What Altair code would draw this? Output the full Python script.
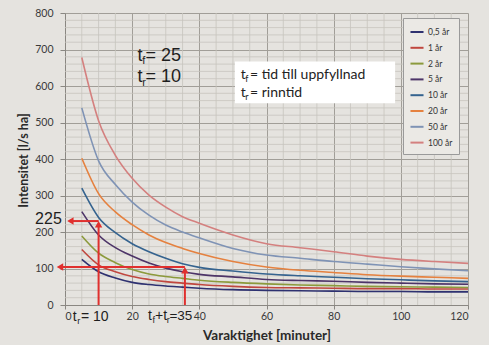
import altair as alt
import pandas as pd

# ---- data ----
minutes = [5, 10, 15, 20, 25, 30, 35, 40, 50, 60, 70, 80, 90, 100, 110, 120]
series_names = ["0,5 år", "1 år", "2 år", "5 år", "10 år", "20 år", "50 år", "100 år"]
i_05 = [125, 91, 74, 62, 56, 52, 49, 46, 42, 40, 39, 38, 37, 37, 36, 36]
i_1 = [152, 110, 91, 78, 70, 64, 60, 56, 51, 48, 47, 46, 45, 45, 44, 44]
i_2 = [189, 142, 116, 97, 85, 78, 73, 68, 62, 58, 55, 53, 51, 50, 49, 48]
i_5 = [256, 192, 157, 134, 115, 101, 91, 84, 77, 70, 67, 65, 62, 60, 58, 57]
i_10 = [320, 240, 198, 168, 146, 128, 113, 103, 93, 85, 80, 76, 72, 69, 66, 64]
i_20 = [402, 305, 255, 220, 192, 171, 155, 141, 119, 104, 95, 89, 83, 79, 76, 73]
i_50 = [540, 395, 330, 282, 246, 219, 200, 184, 155, 137, 128, 119, 112, 105, 99, 94]
i_100 = [678, 505, 410, 347, 301, 268, 242, 224, 192, 168, 157, 146, 134, 125, 119, 114]
series_colors = ["#2e3170", "#c0473f", "#8c9a3c", "#4d3468", "#35638f", "#e5813f", "#7f93b5", "#d4807f"]

x_ticks = [0, 20, 40, 60, 80, 100, 120]
y_ticks = [0, 100, 200, 300, 400, 500, 600, 700, 800]

# annotation arrows (minutes / intensity)
arrow_x = [10, 10, 35.7, 35.7]
arrow_x2 = [10, 1.6, 35.7, -1.5]
arrow_y = [0, 230, 0, 104]
arrow_y2 = [221, 230, 95, 104]
head_x = [10, 1.6, 35.7, -1.5]
head_y = [221, 230, 95, 104]
head_shape = ["triangle-up", "triangle-left", "triangle-up", "triangle-left"]

# annotation texts (Arial-like)
ann_text = ["t", "f", "= 25", "t", "r", "= 10", "225",
            "t", "r", "= 10", "t", "f", "+t", "r", "=35"]
ann_x = [21.6, 23.0, 24.0, 21.6, 23.0, 24.0, -8.9,
         2.3, 3.65, 4.75, 24.7, 26.05, 26.8, 30.3, 31.1]
ann_y = [669, 660, 669, 610, 601, 610, 222,
         -43, -51, -43, -40, -48, -40, -48, -40]
ann_size = [18, 11, 18, 18, 11, 18, 16,
            14, 9, 14, 14, 9, 14, 9, 13.5]

# text box
box_text = ["t", "f", "= tid till uppfyllnad", "t", "r", "= rinntid"]
box_x = [52.3, 53.7, 55.1, 52.3, 53.7, 55.1]
box_y = [619, 611, 619, 570, 562, 570]
box_size = [14, 9, 14, 14, 9, 14]
box_rect_x, box_rect_x2, box_rect_y, box_rect_y2 = [50.6], [98.3], [553], [667]

# ---- build ----
rows = []
for name, vals in zip(series_names, [i_05, i_1, i_2, i_5, i_10, i_20, i_50, i_100]):
    for t, v in zip(minutes, vals):
        rows.append({"x": t, "y": v, "Serie": name})
df = pd.DataFrame(rows)

W, H = 403, 292
xs = alt.Scale(domain=[0, 120], nice=False, zero=False)
ys = alt.Scale(domain=[0, 800], nice=False)

AX = alt.Axis(values=x_ticks, grid=True, gridColor="#a19e98", gridWidth=1,
              domainColor="#8a8782", tickColor="#8a8782", tickSize=4,
              labelFont="Lato", labelFontSize=10.5, labelColor="#3a3a3a", labelPadding=2,
              title="Varaktighet [minuter]", titleFont="Lato", titleFontSize=13.5,
              titleFontWeight="bold", titleColor="#2a2a2a",
              titleY=30, titleBaseline="middle")
AY = alt.Axis(values=y_ticks, grid=True, gridColor="#a19e98", gridWidth=1,
              domainColor="#8a8782", tickColor="#8a8782", tickSize=5,
              labelFont="Lato", labelFontSize=10.5, labelColor="#3a3a3a", labelPadding=7,
              title="Intensitet [l/s ha]", titleFont="Lato", titleFontSize=12.5,
              titleFontWeight="bold", titleColor="#2a2a2a",
              titleX=-42, titleY=147, titleBaseline="middle")


def X(f="x"):
    return alt.X(f"{f}:Q", scale=xs, axis=AX)


def Y(f="y"):
    return alt.Y(f"{f}:Q", scale=ys, axis=AY)


minor_x = [m for m in range(5, 120, 5) if m % 20]
minor_y = [v for v in range(20, 800, 20) if v % 100]
grid_col = "#c7c4be"

vgrid = alt.Chart(pd.DataFrame({"x": minor_x})).mark_rule(color=grid_col, strokeWidth=0.8).encode(x=X())
hgrid = alt.Chart(pd.DataFrame({"y": minor_y})).mark_rule(color=grid_col, strokeWidth=0.8).encode(y=Y())

lines = alt.Chart(df).mark_line(interpolate="monotone", strokeWidth=1.6).encode(
    x=X(), y=Y(),
    color=alt.Color("Serie:N", scale=alt.Scale(domain=series_names, range=series_colors),
                    sort=series_names,
                    legend=alt.Legend(title=None, orient="none", legendX=338, legendY=5,
                                      fillColor="#ebe9e5", strokeColor="#9a9a9a", padding=6,
                                      symbolType="stroke", symbolStrokeWidth=2, symbolSize=170,
                                      labelFont="Lato", labelFontSize=8.5, labelColor="#333333",
                                      labelOffset=3, rowPadding=2.8)),
)

arrows_df = pd.DataFrame({"x": arrow_x, "x2": arrow_x2, "y": arrow_y, "y2": arrow_y2})
arrows = alt.Chart(arrows_df).mark_rule(color="#e0302e", strokeWidth=2).encode(
    x=X(), x2="x2:Q", y=Y(), y2="y2:Q")

heads_df = pd.DataFrame({"x": head_x, "y": head_y, "shape": head_shape})
heads = alt.Chart(heads_df).mark_point(filled=True, color="#e0302e", size=55, opacity=1).encode(
    x=X(), y=Y(),
    shape=alt.Shape("shape:N", scale=None, legend=None))

ann_df = pd.DataFrame({"t": ann_text, "x": ann_x, "y": ann_y, "s": ann_size})
ann = alt.Chart(ann_df).mark_text(align="left", baseline="alphabetic", font="Liberation Sans",
                                  color="#1e1e1e").encode(
    x=X(), y=Y(), text="t:N",
    size=alt.Size("s:Q", scale=None, legend=None))

rect_df = pd.DataFrame({"x": box_rect_x, "x2": box_rect_x2, "y": box_rect_y, "y2": box_rect_y2})
rect = alt.Chart(rect_df).mark_rect(color="white").encode(
    x=X(), x2="x2:Q", y=Y(), y2="y2:Q")

box_df = pd.DataFrame({"t": box_text, "x": box_x, "y": box_y, "s": box_size})
box = alt.Chart(box_df).mark_text(align="left", baseline="alphabetic", font="Lato",
                                  color="#222222").encode(
    x=X(), y=Y(), text="t:N",
    size=alt.Size("s:Q", scale=None, legend=None))

chart = alt.layer(vgrid, hgrid, lines, rect, box, ann, arrows, heads).properties(
    width=W, height=H,
    autosize=alt.AutoSizeParams(type="none"),
    padding={"left": 65, "top": 13, "right": 21, "bottom": 40},
    background="#e5e3df",
).configure_view(stroke=None)

chart.save("out.html", embed_options={"renderer": "svg", "actions": False})
